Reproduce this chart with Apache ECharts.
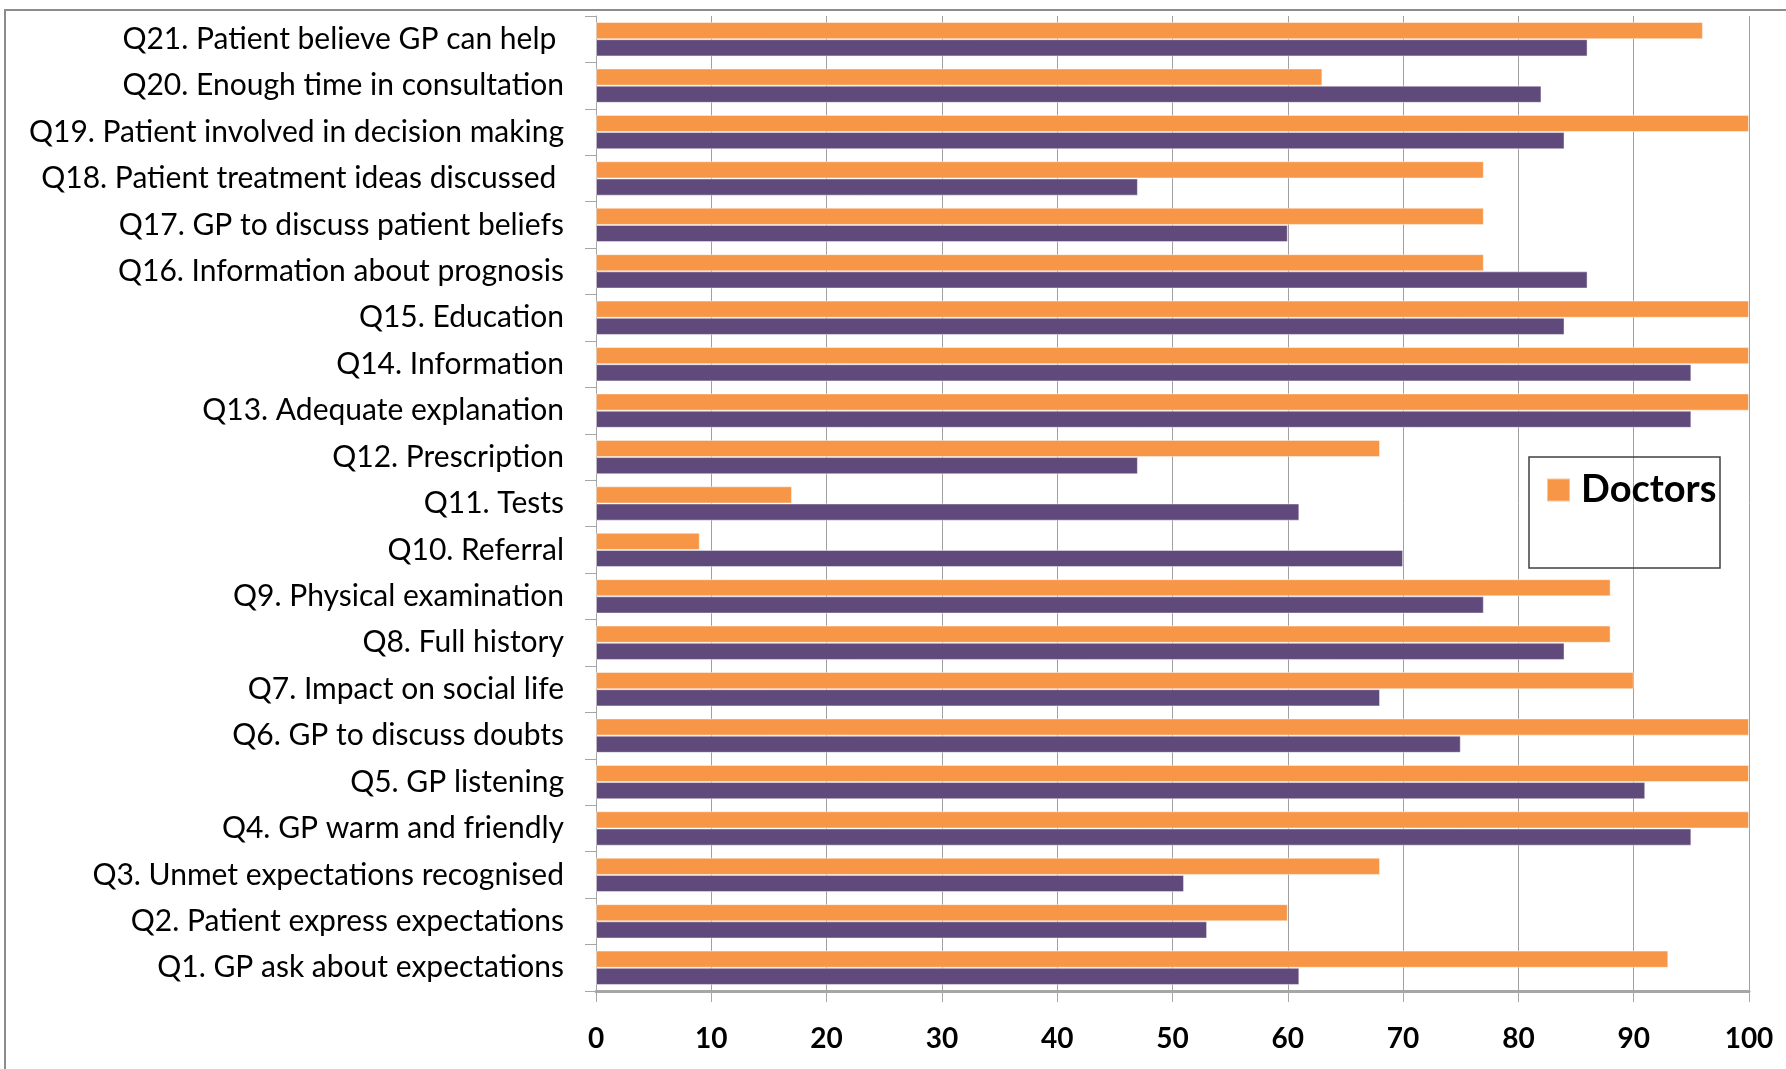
<!DOCTYPE html>
<html>
<head>
<meta charset="utf-8">
<script src="https://cdn.jsdelivr.net/npm/echarts@6/dist/echarts.min.js"></script>
<style>html,body{margin:0;padding:0;background:#fff;}#c{width:1786px;height:1069px;}</style>
</head>
<body>
<div id="c"></div>
<script>
const categories = [
  'Q1. GP ask about expectations',
  'Q2. Patient express expectations',
  'Q3. Unmet expectations recognised',
  'Q4. GP warm and friendly',
  'Q5. GP listening',
  'Q6. GP to discuss doubts',
  'Q7. Impact on social life',
  'Q8. Full history',
  'Q9. Physical examination',
  'Q10. Referral',
  'Q11. Tests',
  'Q12. Prescription',
  'Q13. Adequate explanation',
  'Q14. Information',
  'Q15. Education',
  'Q16. Information about prognosis',
  'Q17. GP to discuss patient beliefs',
  'Q18. Patient treatment ideas discussed ',
  'Q19. Patient involved in decision making',
  'Q20. Enough time in consultation',
  'Q21. Patient believe GP can help '
];
const patients = [61, 53, 51, 95, 91, 75, 68, 84, 77, 70, 61, 47, 95, 95, 84, 86, 60, 47, 84, 82, 86];
const doctors  = [93, 60, 68, 100, 100, 100, 90, 88, 88, 9, 17, 68, 100, 100, 100, 77, 77, 77, 100, 63, 96];
const xTicks = [0, 10, 20, 30, 40, 50, 60, 70, 80, 90, 100];

const FONT = 'Lato, "Open Sans", sans-serif';
const chart = echarts.init(document.getElementById('c'), null, {renderer: 'canvas'});
chart.setOption({
  animation: false,
  backgroundColor: '#fff',
  grid: {left: 596, right: 37, top: 16, bottom: 78, containLabel: false},
  legend: {
    data: ['Doctors'],
    left: 1541, top: 466,
    itemWidth: 23, itemHeight: 23,
    icon: 'rect',
    textStyle: {fontFamily: FONT, fontSize: 38, fontWeight: 'bold', color: '#000', padding: [0, 0, 0, 6]}
  },
  xAxis: {
    type: 'value', min: xTicks[0], max: xTicks[xTicks.length - 1], interval: 10,
    axisLine: {show: true, lineStyle: {color: '#a6a6a6', width: 3}},
    axisTick: {show: true, length: 11, lineStyle: {color: '#a6a6a6', width: 1}},
    splitLine: {show: true, lineStyle: {color: '#a0a0a0', width: 1}},
    axisLabel: {margin: 34, fontFamily: FONT, fontSize: 28, fontWeight: 'bold', color: '#000'}
  },
  yAxis: {
    type: 'category', data: categories,
    axisLine: {show: true, lineStyle: {color: '#a6a6a6', width: 1}},
    axisTick: {show: true, length: 11, alignWithLabel: false, lineStyle: {color: '#a6a6a6', width: 1}},
    axisLabel: {margin: 32, fontFamily: FONT, fontSize: 30, color: '#000'}
  },
  graphic: [
    {type: 'rect', shape: {x: 5, y: 10, width: 1900, height: 1200}, style: {fill: 'none', stroke: '#8c8c8c', lineWidth: 2}, z: 100},
    {type: 'rect', shape: {x: 1529, y: 457, width: 191, height: 111}, style: {fill: 'none', stroke: '#404040', lineWidth: 1.5}, z: 100}
  ],
  series: [
    {name: 'Doctors', type: 'bar', data: doctors, barGap: '0%', barCategoryGap: '26%',
     itemStyle: {color: '#F79646', borderColor: 'rgba(255,255,255,0.45)', borderWidth: 1}},
    {name: 'Patients', type: 'bar', data: patients, barGap: '0%', barCategoryGap: '26%',
     itemStyle: {color: '#604A7B', borderColor: 'rgba(255,255,255,0.45)', borderWidth: 1}}
  ]
});
</script>
</body>
</html>
